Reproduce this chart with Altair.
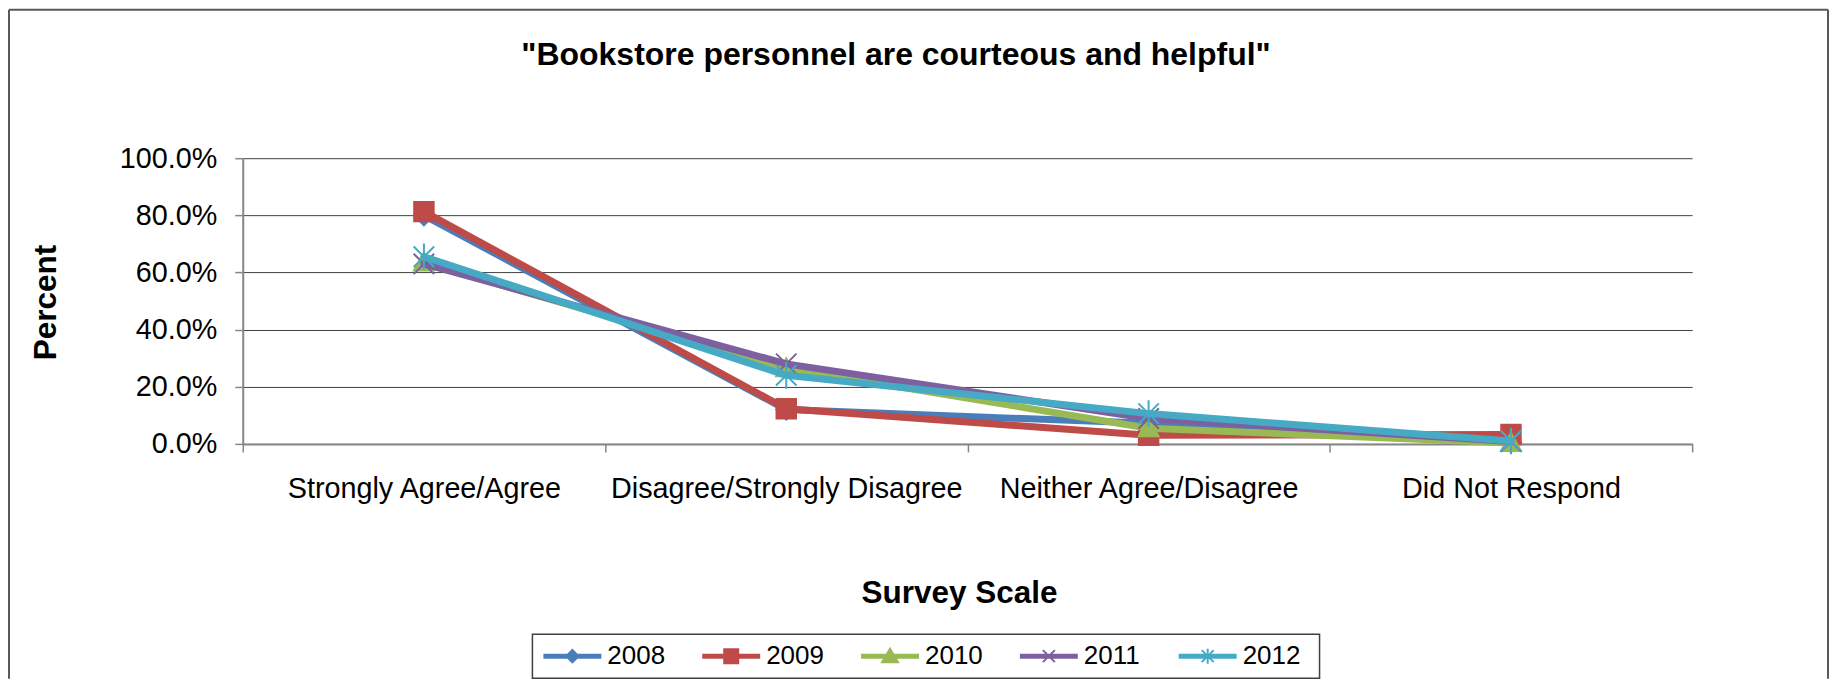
import altair as alt
import pandas as pd

# ---------------- data ----------------
categories = ["Strongly Agree/Agree", "Disagree/Strongly Disagree",
              "Neither Agree/Disagree", "Did Not Respond"]
years = ["2008", "2009", "2010", "2011", "2012"]
v2008 = [0.800, 0.120, 0.072, 0.005]
v2009 = [0.813, 0.123, 0.030, 0.033]
v2010 = [0.635, 0.265, 0.055, 0.003]
v2011 = [0.630, 0.280, 0.089, 0.008]
v2012 = [0.655, 0.240, 0.106, 0.010]
y_ticks = [0.0, 0.2, 0.4, 0.6, 0.8, 1.0]

series = {"2008": v2008, "2009": v2009, "2010": v2010, "2011": v2011, "2012": v2012}
rows = []
for yr in years:
    for cat, val in zip(categories, series[yr]):
        rows.append({"category": cat, "year": yr, "value": val})
df = pd.DataFrame(rows)

# ---------------- styles ----------------
FONT = "Liberation Sans"
colors = ["#4A7EBB", "#BE4B48", "#98B954", "#7D60A0", "#46AAC5"]
AXIS_GRAY = "#868686"
FRAME = "#595959"

chart_shapes = [
    "M0,-1L1,0L0,1L-1,0Z",                        # diamond
    "M-1,-1H1V1H-1Z",                             # square
    "M0,-1L1,0.8L-1,0.8Z",                        # triangle
    "M-1,-1L1,1M-1,1L1,-1",                       # x
    "M-1,-1L1,1M-1,1L1,-1M0,-1.3L0,1.3",          # asterisk
]
chart_sizes = [400, 380, 400, 420, 420]

pad = "M-3.4,0M11.7,0"
seg = "M-1,-0.15H4.6V0.15H-1Z"
legend_shapes = [
    pad + seg + "M1.8,-0.62L2.42,0L1.8,0.62L1.18,0Z",
    pad + seg + "M1.1,-0.7H2.5V0.7H1.1Z",
    pad + seg + "M1.8,-0.75L2.6,0.6L1.0,0.6Z",
    pad + seg + "M1.2,-0.6L2.4,0.6M1.2,0.6L2.4,-0.6",
    pad + seg + "M1.2,-0.6L2.4,0.6M1.2,0.6L2.4,-0.6M1.8,-0.75L1.8,0.75",
]

x_enc = alt.X(
    "category:N",
    scale=alt.Scale(type="band", domain=categories, paddingInner=0, paddingOuter=0),
    axis=alt.Axis(
        title="Survey Scale", labelAngle=0, labelFont=FONT, labelFontSize=28.8,
        labelColor="black", labelPadding=23, labelLimit=0, labelOverlap=False,
        tickBand="extent", tickSize=8, tickColor=AXIS_GRAY, tickWidth=1.5,
        domainColor=AXIS_GRAY, domainWidth=2, grid=False,
        titleFont=FONT, titleFontSize=31.5, titleFontWeight="bold", titleColor="black",
        titleX=717, titleY=159, titleAlign="center", titleBaseline="alphabetic",
    ),
)
y_enc = alt.Y(
    "value:Q",
    scale=alt.Scale(domain=[0, 1], nice=False, zero=True),
    axis=alt.Axis(
        title="Percent", values=y_ticks, format=".1%", labelFont=FONT,
        labelFontSize=28.8, labelColor="black", labelPadding=18,
        tickSize=8, tickColor=AXIS_GRAY, tickWidth=1.5,
        domainColor=AXIS_GRAY, domainWidth=2,
        grid=True, gridColor="#404040", gridWidth=1,
        titleFont=FONT, titleFontSize=31.5, titleFontWeight="bold", titleColor="black",
        titleAngle=-90, titleX=-196, titleY=144, titleAlign="center",
        titleBaseline="middle",
    ),
)

base = alt.Chart(df).encode(x=x_enc, y=y_enc)

layers = []
for i, yr in enumerate(years):
    sub = base.transform_filter(alt.datum.year == yr)
    layers.append(sub.mark_line(color=colors[i], strokeWidth=7,
                                strokeCap="round", strokeJoin="round"))
    layers.append(sub.mark_point(shape=chart_shapes[i], size=chart_sizes[i], filled=True,
                                 fill=colors[i], stroke=colors[i], strokeWidth=2,
                                 opacity=1))

leg = alt.Legend(
    title=None, orient="none", legendX=290, legendY=476.5, direction="horizontal",
    symbolSize=400, symbolStrokeWidth=2, symbolOpacity=1, labelOffset=40,
    columnPadding=0, padding=9, strokeColor="#404040",
    labelFont=FONT, labelFontSize=26, labelColor="black",
)
legend_layer = base.mark_point(filled=True, opacity=0).encode(
    color=alt.Color("year:N", scale=alt.Scale(domain=years, range=colors), legend=leg),
    stroke=alt.Stroke("year:N", scale=alt.Scale(domain=years, range=colors), legend=leg),
    shape=alt.Shape("year:N", scale=alt.Scale(domain=years, range=legend_shapes), legend=leg),
)

one = pd.DataFrame({"k": [0]})
frame_top = alt.Chart(one).mark_rule(color=FRAME, strokeWidth=2).encode(
    x=alt.value(-234), x2=alt.value(1587), y=alt.value(-148.5))
frame_left = alt.Chart(one).mark_rule(color=FRAME, strokeWidth=2).encode(
    x=alt.value(-234), y=alt.value(-148.5), y2=alt.value(521))
frame_right = alt.Chart(one).mark_rule(color=FRAME, strokeWidth=2).encode(
    x=alt.value(1587), y=alt.value(-148.5), y2=alt.value(521))

chart = alt.layer(*layers, legend_layer, frame_top, frame_left, frame_right).properties(
    width=1451,
    height=286,
    padding=0,
    title=alt.TitleParams(
        text='"Bookstore personnel are courteous and helpful"',
        font=FONT, fontSize=32, fontWeight="bold", color="black",
        anchor="middle", orient="top", offset=-88.5,
        baseline="alphabetic", dx=-71.5,
    ),
).configure_view(stroke="transparent").configure_legend(strokeWidth=1.5)

chart.save("out.html", embed_options={"renderer": "svg", "actions": False})
